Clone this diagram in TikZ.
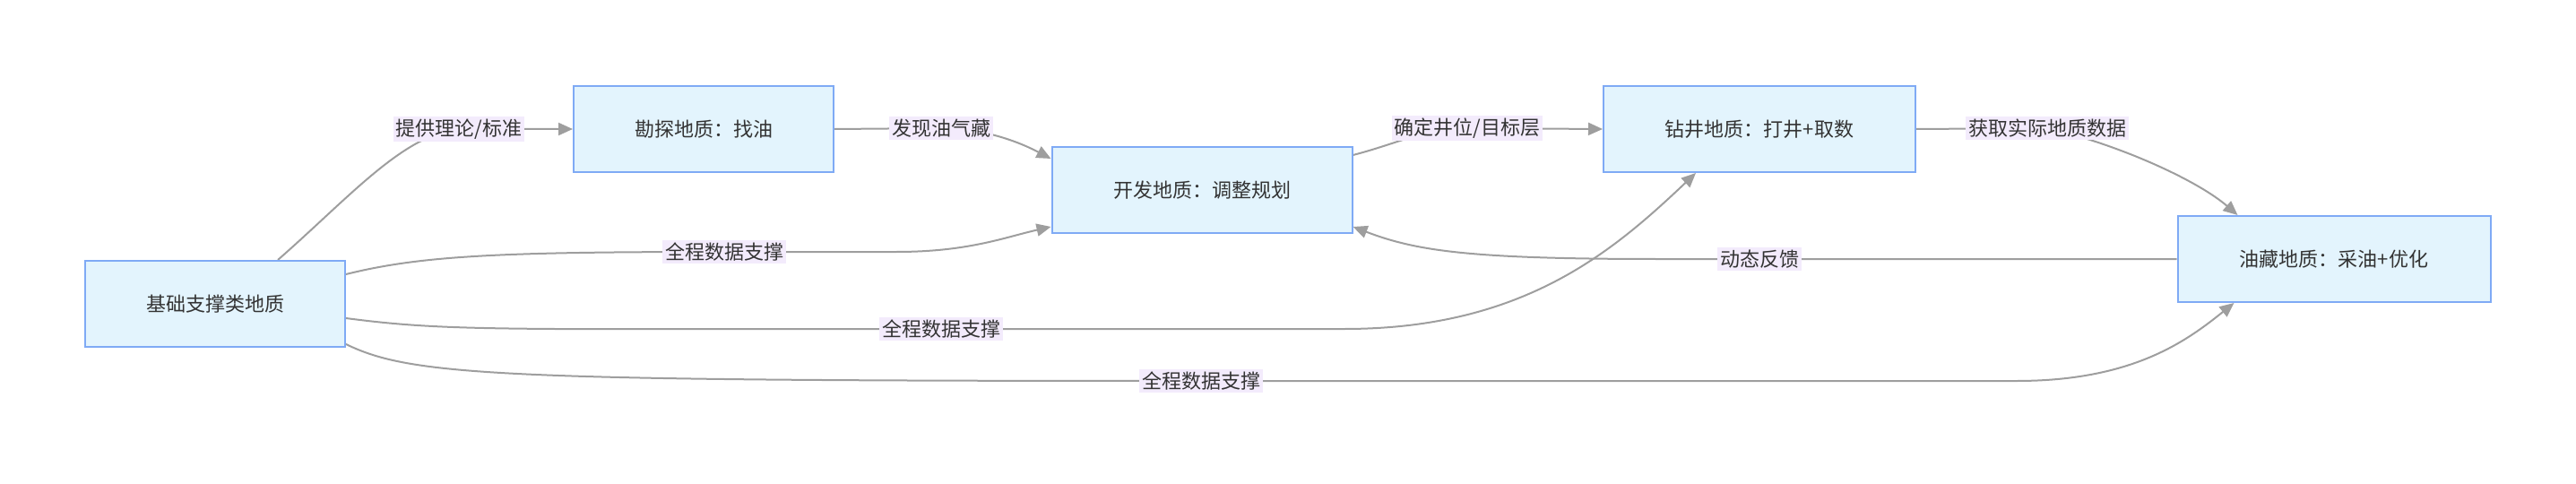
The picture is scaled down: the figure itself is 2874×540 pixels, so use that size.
\documentclass[tikz,border=0pt]{standalone}
\usepackage{fontspec}
\setmainfont{Noto Sans CJK SC}
\usetikzlibrary{arrows.meta,calc,backgrounds}
\definecolor{boxfill}{HTML}{E3F4FD}
\definecolor{boxline}{HTML}{7FAAF5}
\definecolor{lblfill}{HTML}{F3EBFC}
\definecolor{edgec}{HTML}{9E9E9E}
\definecolor{txt}{HTML}{333333}
\tikzset{
 box/.style={draw=boxline,fill=boxfill,line width=2pt,minimum height=96pt,inner sep=0pt,text=txt,font=\fontsize{22}{26}\selectfont},
 lbl/.style={fill=lblfill,inner sep=3pt,text=txt,font=\fontsize{22}{26}\selectfont},
 edge/.style={draw=edgec,line width=2pt,-{Triangle[length=16pt,width=14pt]}},
}
\begin{document}
\begin{tikzpicture}[x=1pt,y=-1pt]
\useasboundingbox (0,0) rectangle (2874,540);
\node[box,minimum width=290pt] (base) at (240,339) {基础支撑类地质};
\node[box,minimum width=290pt] (explore) at (785,144) {勘探地质：找油};
\node[box,minimum width=335pt] (dev) at (1341,212) {开发地质：调整规划};
\node[box,minimum width=348pt] (drill) at (1963,144) {钻井地质：打井+取数};
\node[box,minimum width=349pt] (res) at (2604,289) {油藏地质：采油+优化};
\coordinate (c1) at (512,144);
\coordinate (c2) at (1050,143);
\coordinate (c3) at (1637,143);
\coordinate (c4) at (2284,143);
\coordinate (c5) at (1963,289);
\coordinate (c6) at (808,281);
\coordinate (c7) at (1050,367);
\coordinate (c8) at (1340,425);
\begin{scope}[on background layer]
\draw[edge] ($(base.north)+(70,0)$) .. controls (390,220) and (450,150) .. (c1) -- (explore.west);
\draw[edge] (explore.east) -- (c2) .. controls (1100,143) and (1140,160) .. ($(dev.north west)+(0,14)$);
\draw[edge] ($(dev.north east)+(0,10)$) .. controls (1560,160) and (1590,143) .. (c3) -- (drill.west);
\draw[edge] (drill.east) -- (c4) .. controls (2360,160) and (2450,200) .. ($(res.north west)+(68,0)$);
\draw[edge] (res.west) -- (c5) -- (1850,289) .. controls (1640,289) and (1580,280) .. ($(dev.south east)+(0,-8)$);
\draw[edge] ($(base.north east)+(0,16)$) .. controls (470,285) and (560,281) .. (c6) -- (1000,281) .. controls (1080,281) and (1120,265) .. ($(dev.south west)+(0,-8)$);
\draw[edge] ($(base.east)+(0,16)$) .. controls (500,370) and (560,367) .. (c7) -- (1500,367) .. controls (1700,367) and (1800,280) .. ($(drill.south west)+(104,0)$);
\draw[edge] ($(base.south east)+(0,-4)$) .. controls (460,420) and (560,425) .. (c8) -- (2250,425) .. controls (2380,425) and (2440,380) .. ($(res.south west)+(64,0)$);
\end{scope}
\node[lbl] (l1) at (c1) {提供理论/标准};
\node[lbl] (l2) at (c2) {发现油气藏};
\node[lbl] (l3) at (c3) {确定井位/目标层};
\node[lbl] (l4) at (c4) {获取实际地质数据};
\node[lbl] (l5) at (c5) {动态反馈};
\node[lbl] (l6) at (c6) {全程数据支撑};
\node[lbl] (l7) at (c7) {全程数据支撑};
\node[lbl] (l8) at (c8) {全程数据支撑};
\end{tikzpicture}
\end{document}
